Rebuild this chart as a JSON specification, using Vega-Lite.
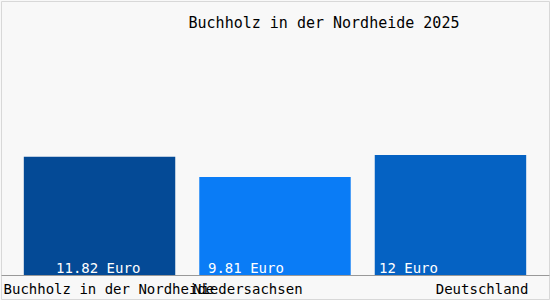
{
  "$schema": "https://vega.github.io/schema/vega-lite/v6.json",
  "autosize": "none",
  "width": 548,
  "height": 298,
  "padding": {"left": 1, "top": 1, "right": 1, "bottom": 1},
  "background": "#f8f8f8",
  "title": {
    "text": "Buchholz in der Nordheide 2025",
    "font": "DejaVu Sans Mono",
    "fontSize": 15,
    "fontWeight": "normal",
    "color": "#000000",
    "anchor": "middle",
    "dx": 49,
    "offset": -42,
    "baseline": "alphabetic"
  },
  "config": {
    "view": {"stroke": "#d8d8d8", "strokeWidth": 1, "fill": "#f8f8f8"}
  },
  "data": {
    "values": [
      {"region": "Buchholz in der Nordheide", "wert": 11.82, "label": "11.82 Euro"},
      {"region": "Niedersachsen", "wert": 9.81, "label": "9.81 Euro"},
      {"region": "Deutschland", "wert": 12, "label": "12 Euro"}
    ]
  },
  "encoding": {
    "x": {
      "field": "region",
      "type": "nominal",
      "sort": null,
      "scale": {"paddingInner": 0.137, "paddingOuter": 0.13},
      "axis": {
        "title": null,
        "offset": -24,
        "ticks": false,
        "domainColor": "#999999",
        "labelFont": "DejaVu Sans Mono",
        "labelFontSize": 14,
        "labelColor": "#000000",
        "labelAngle": 0,
        "labelOverlap": false,
        "labelBaseline": "alphabetic",
        "labelPadding": 18,
        "labelLimit": 0,
        "labelAlign": {"expr": "datum.value == 'Deutschland' ? 'right' : 'left'"},
        "labelOffset": {"expr": "datum.value == 'Deutschland' ? 78 : (datum.value == 'Niedersachsen' ? -82 : -96)"}
      }
    }
  },
  "layer": [
    {
      "mark": {"type": "bar"},
      "encoding": {
        "y": {
          "field": "wert",
          "type": "quantitative",
          "scale": {"domain": [-2.4, 27.4], "nice": false, "zero": false},
          "axis": null
        },
        "y2": {"datum": 0},
        "color": {
          "field": "region",
          "type": "nominal",
          "scale": {
            "domain": ["Buchholz in der Nordheide", "Niedersachsen", "Deutschland"],
            "range": ["#044a96", "#0a7cf6", "#0562c3"]
          },
          "legend": null
        }
      }
    },
    {
      "mark": {
        "type": "text",
        "font": "DejaVu Sans Mono",
        "fontSize": 14,
        "color": "#ffffff",
        "align": "left",
        "baseline": "alphabetic",
        "dy": -2,
        "dx": {"expr": "datum.region == 'Deutschland' ? -71.5 : (datum.region == 'Niedersachsen' ? -67 : -43.5)"}
      },
      "encoding": {
        "y": {"datum": 0, "type": "quantitative", "scale": {"domain": [-2.4, 27.4], "nice": false, "zero": false}},
        "text": {"field": "label"}
      }
    }
  ]
}
